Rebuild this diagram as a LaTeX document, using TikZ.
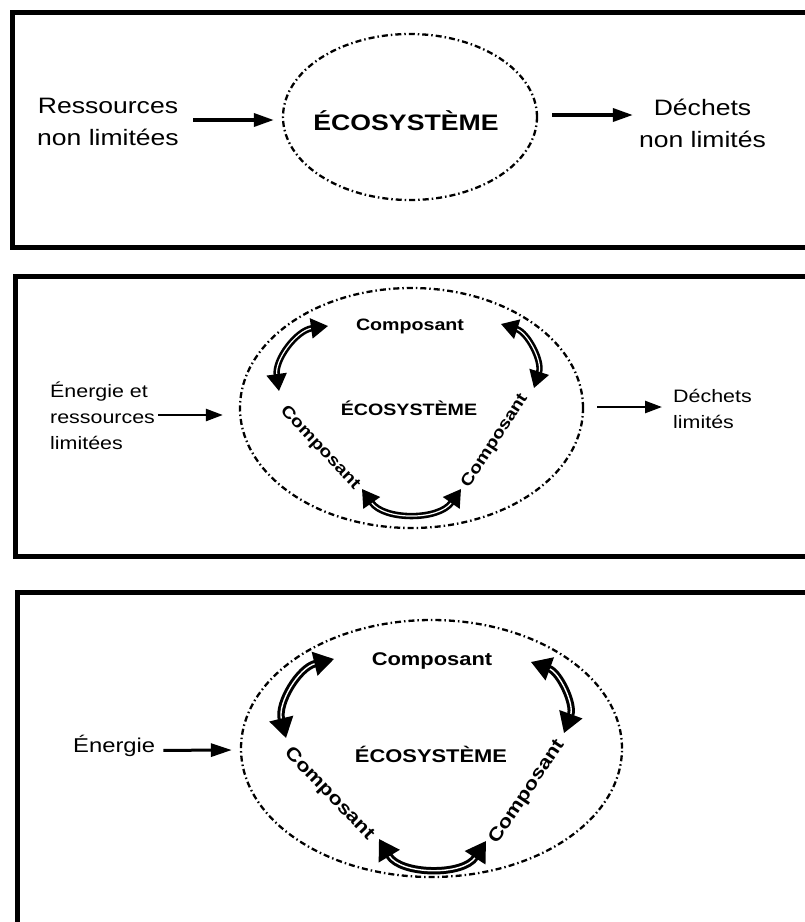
\documentclass[tikz,border=0pt]{standalone}
\usepackage{fontspec}
\usetikzlibrary{shapes.geometric,arrows.meta,calc}
\newfontfamily\hv[FakeStretch=1.19]{Liberation Sans}
\begin{document}
\begin{tikzpicture}[x=1pt,y=-1pt,
  panel/.style={draw, line width=5pt},
  eco/.style={ellipse, draw, line width=2.3pt, inner sep=0pt,
    dash pattern=on 6pt off 3pt on 1.5pt off 3pt},
  fa/.style={font=\hv\fontsize{22.3pt}{32pt}\selectfont, inner sep=0pt},
  fab/.style={font=\hv\bfseries\fontsize{22.4pt}{27pt}\selectfont, inner sep=0pt},
  fb/.style={font=\hv\fontsize{18pt}{26pt}\selectfont, inner sep=0pt},
  fbb/.style={font=\hv\bfseries\fontsize{16.5pt}{20pt}\selectfont, inner sep=0pt},
  fc/.style={font=\hv\fontsize{20pt}{24pt}\selectfont, inner sep=0pt},
  fcb/.style={font=\hv\bfseries\fontsize{18.4pt}{22pt}\selectfont, inner sep=0pt},
  arra/.style={line width=3.5pt, -{Triangle[length=20pt,width=13pt]}},
  arrb/.style={line width=2.5pt, -{Triangle[length=17pt,width=12pt]}},
  arrc/.style={line width=3pt, -{Triangle[length=21pt,width=13pt]}},
  dblb/.style={draw, double=white, double distance=1.2pt, line width=2.6pt,
    {Triangle[length=17pt,width=20pt]}-{Triangle[length=17pt,width=20pt]}},
  dblc/.style={draw, double=white, double distance=1.4pt, line width=3pt,
    {Triangle[length=20pt,width=24pt]}-{Triangle[length=20pt,width=24pt]}}
]
\useasboundingbox (0,0) rectangle (805,922);
\clip (0,0) rectangle (805,922);
\fill[white] (0,0) rectangle (805,922);

% panel frames
\draw[panel] (12,12) rectangle (812,247);
\draw[panel] (15,276) rectangle (812,556);
\draw[panel] (17,592) rectangle (812,927);

% ---------- panel 1 ----------
\node[eco, minimum width=254pt, minimum height=166pt] (e1) at (410,117) {};
\node[fab, anchor=base] (c1) at (406,130) {ÉCOSYSTÈME};
\node[fa, align=center] (r1) at (108,121.5) {Ressources\\non limitées};
\node[fa, align=center] (d1) at (702.5,123) {Déchets\\non limités};
\draw[arra] ($(r1.east |- e1.west)+(14,3)$) -- ($(e1.west)+(-8,3)$);
\draw[arra] ($(e1.east)+(14,-2)$) -- ($(d1.west |- e1.east)+(-6,-2)$);

% ---------- panel 2 ----------
\node[eco, minimum width=343pt, minimum height=240pt] (e2) at (411.5,408) {};
\node[fbb, anchor=base] (c2) at (409,415) {ÉCOSYSTÈME};
\node[fbb, anchor=base] (k2t) at (410,330) {Composant};
\node[fbb, rotate=-46.5] (k2l) at (320,448) {Composant};
\node[fbb, rotate=57] (k2r) at (495,441) {Composant};
\node[fb, align=left, anchor=west] (t2) at (50,416) {Énergie et\\ressources\\limitées};
\node[fb, align=left, anchor=west] (d2) at (673,408.5) {Déchets\\limités};
\draw[arrb] ($(t2.east)+(3,-1)$) -- ($(e2.west)+(-16,7)$);
\draw[arrb] ($(e2.east)+(13,-1)$) -- ($(d2.west)+(-11,-1.5)$);
\coordinate (p2a) at (279,391);
\coordinate (p2b) at (328,326);
\coordinate (p2c) at (501,324);
\coordinate (p2d) at (534,388);
\coordinate (p2e) at (362,489);
\coordinate (p2f) at (461,489);
\draw[dblb] (p2a) to[bend left=45] (p2b);
\draw[dblb] (p2c) to[bend left=45] (p2d);
\draw[dblb] (p2e) to[bend right=55] (p2f);

% ---------- panel 3 ----------
\node[eco, minimum width=381pt, minimum height=257pt] (e3) at (431.5,748.5) {};
\node[fcb, anchor=base] (c3) at (431,762) {ÉCOSYSTÈME};
\node[fcb, anchor=base] (k3t) at (432,665) {Composant};
\node[fcb, rotate=-46] (k3l) at (329,794) {Composant};
\node[fcb, rotate=56] (k3r) at (527,792) {Composant};
\node[fc, anchor=base west] (en) at (73,752) {Énergie};
\draw[arrc] ($(en.east)+(8,5)$) -- ($(e3.west)+(-8,1.5)$);
\coordinate (p3a) at (286,738);
\coordinate (p3b) at (334,659);
\coordinate (p3c) at (531,662);
\coordinate (p3d) at (564,733);
\coordinate (p3e) at (379,839);
\coordinate (p3f) at (486,841);
\draw[dblc] (p3a) to[bend left=45] (p3b);
\draw[dblc] (p3c) to[bend left=45] (p3d);
\draw[dblc] (p3e) to[bend right=58] (p3f);
\end{tikzpicture}
\end{document}
